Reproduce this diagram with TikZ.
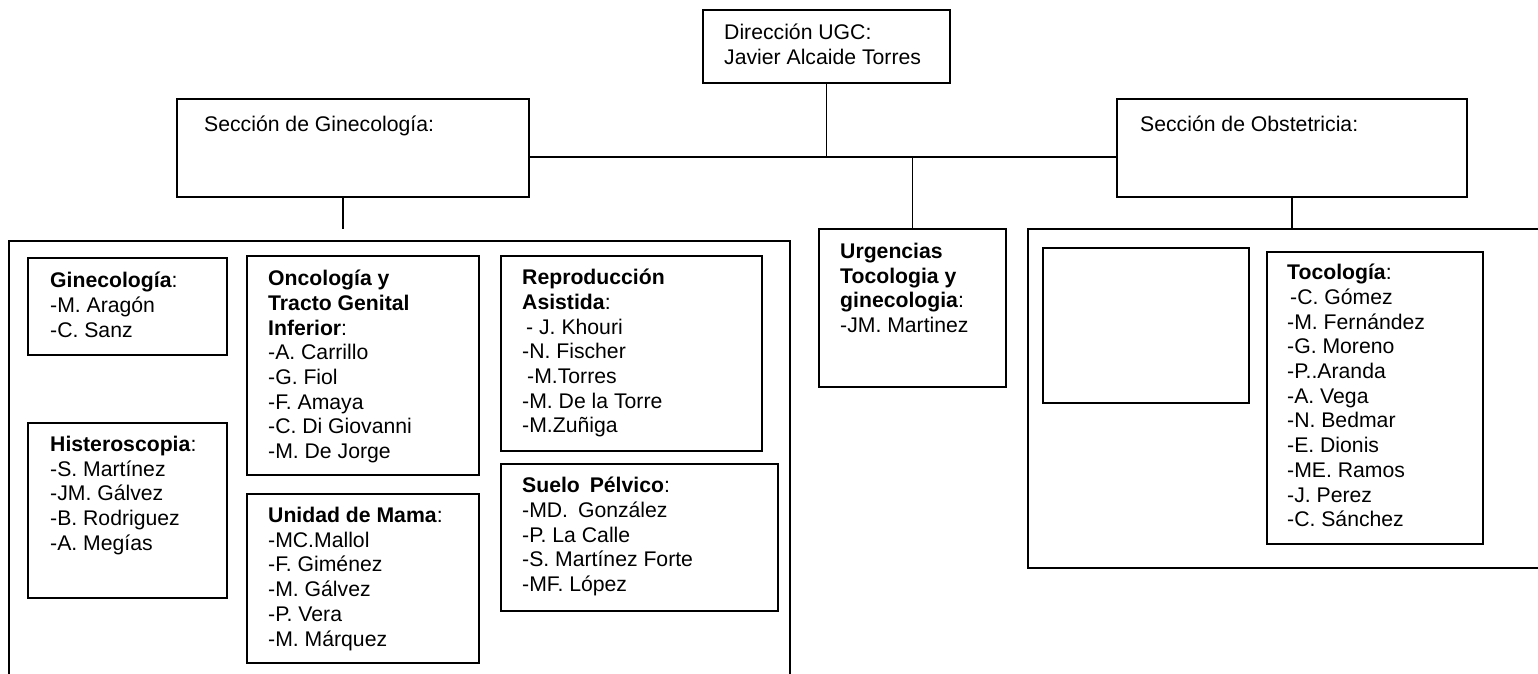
\documentclass[tikz,border=0pt]{standalone}
\usepackage{fontspec}
\setmainfont{Liberation Sans}
\usetikzlibrary{positioning}

\tikzset{
	unit/.style = {draw, black, line width = 1.6pt, anchor = north west, inner sep = 0pt, outer sep = 0pt},
	frame/.style = {draw, black, line width = 1.3pt, anchor = north west, inner sep = 0pt, outer sep = 0pt},
	names/.style = {anchor = north west, align = left, inner sep = 0pt, font = \fontsize{21.2}{24.7}\selectfont, execute at begin node = {\rule{0pt}{18pt}}},
	link/.style = {black, line width = 1.4pt},
}

\begin{document}
\begin{tikzpicture}[x = 1pt, y = -1pt]
	\useasboundingbox (0, 0) rectangle (1538, 674);

	\node [unit, minimum width = 247pt, minimum height = 73pt] (dir) at (703, 10) {};
	\node [unit, minimum width = 352pt, minimum height = 98pt] (gin) at (177, 99) {};
	\node [unit, minimum width = 350pt, minimum height = 98pt] (obs) at (1117, 99) {};
	\node [unit, minimum width = 187pt, minimum height = 158pt] (urg) at (819, 229) {};

	\node [frame, minimum width = 781pt, minimum height = 470pt] (ginall) at (9, 241) {};
	\node [frame, minimum width = 540pt, minimum height = 339pt] (obsall) at (1028, 229) {};

	\node [unit, minimum width = 199pt, minimum height = 97pt] (ginec) at (28, 258) {};
	\node [unit, minimum width = 199pt, minimum height = 175pt] (hist) at (28, 423) {};
	\node [unit, minimum width = 232pt, minimum height = 219pt] (onco) at (247, 256) {};
	\node [unit, minimum width = 232pt, minimum height = 169pt] (mama) at (247, 494) {};
	\node [unit, minimum width = 261pt, minimum height = 195pt] (repro) at (501, 256) {};
	\node [unit, minimum width = 277pt, minimum height = 147pt] (suelo) at (501, 464) {};
	\node [unit, minimum width = 206pt, minimum height = 155pt] (vacio) at (1043, 248) {};
	\node [unit, minimum width = 216pt, minimum height = 292pt] (toco) at (1267, 252) {};

	\node [names] at ([shift = {(21, 14)}] dir.north west) {Dirección UGC:\\Javier Alcaide Torres};
	\node [names] at ([shift = {(27, 14)}] gin.north west) {Sección de Ginecología:};
	\node [names] at ([shift = {(23, 14)}] obs.north west) {Sección de Obstetricia:};
	\node [names] at ([shift = {(21, 14)}] urg.north west) {\textbf{Urgencias}\\\textbf{Tocologia y}\\\textbf{ginecologia}:\\-JM. Martinez};
	\node [names] at ([shift = {(22, 14)}] ginec.north west) {\textbf{Ginecología}:\\-M. Aragón\\-C. Sanz};
	\node [names] at ([shift = {(22, 13)}] hist.north west) {\textbf{Histeroscopia}:\\-S. Martínez\\-JM. Gálvez\\-B. Rodriguez\\-A. Megías};
	\node [names] at ([shift = {(21, 14)}] onco.north west) {\textbf{Oncología y}\\\textbf{Tracto Genital}\\\textbf{Inferior}:\\-A. Carrillo\\-G. Fiol\\-F. Amaya\\-C. Di Giovanni\\-M. De Jorge};
	\node [names] at ([shift = {(21, 13)}] mama.north west) {\textbf{Unidad de Mama}:\\-MC.Mallol\\-F. Giménez\\-M. Gálvez\\-P. Vera\\-M. Márquez};
	\node [names] at ([shift = {(21, 13)}] repro.north west) {\textbf{Reproducción}\\\textbf{Asistida}:\\\hspace*{4pt}- J. Khouri\\-N. Fischer\\\hspace*{5pt}-M.Torres\\-M. De la Torre\\-M.Zuñiga};
	\node [names] at ([shift = {(21, 13)}] suelo.north west) {\textbf{Suelo\hspace{4pt} Pélvico}:\\-MD.\hspace{4pt} González\\-P. La Calle\\-S. Martínez Forte\\-MF. López};
	\node [names] at ([shift = {(20, 12)}] toco.north west) {\textbf{Tocología}:\\\hspace*{3pt}-C. Gómez\\-M. Fernández\\-G. Moreno\\-P..Aranda\\-A. Vega\\-N. Bedmar\\-E. Dionis\\-ME. Ramos\\-J. Perez\\-C. Sánchez};

	\coordinate (bus) at (829, 157);
	\coordinate (gtip) at (343, 229);
	\draw [link] (dir.south) -- (dir.south |- bus);
	\draw [link] (gin.east |- bus) -- (obs.west |- bus);
	\draw [link] (urg.north |- bus) -- (urg.north);
	\draw [link] (gin.south -| gtip) -- (gtip);
	\draw [link] (obs.south) -- (obsall.north -| obs.south);
\end{tikzpicture}
\end{document}
